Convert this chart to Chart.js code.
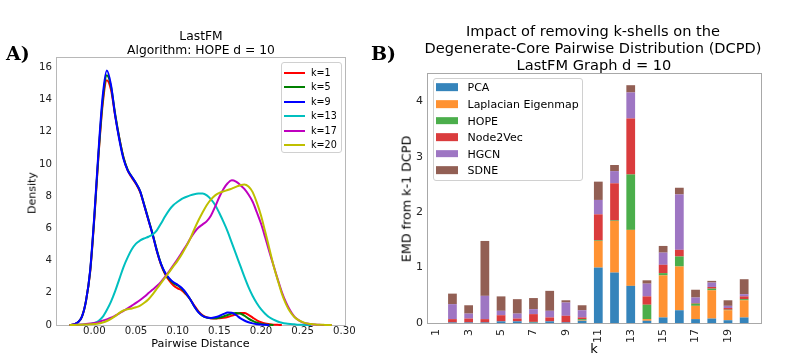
<!DOCTYPE html>
<html><head><meta charset="utf-8">
<script src="https://cdn.jsdelivr.net/npm/chart.js@4.4.1/dist/chart.umd.min.js"></script>
<style>
html,body{margin:0;padding:0;background:#fff;}
#root{position:relative;width:788px;height:358px;overflow:hidden;font-family:'DejaVu Sans',sans-serif;color:#000;}
.t{position:absolute;white-space:nowrap;transform:translate(-50%,-50%);line-height:1;}
.rot{transform:translate(-50%,-50%) rotate(-90deg);}
.panel{position:absolute;font-family:'DejaVu Serif',serif;font-weight:bold;font-size:19px;line-height:1;}
.legbox{position:absolute;border:1px solid #d0d0d0;border-radius:3px;background:rgba(255,255,255,0.85);box-sizing:border-box;}
.legtxt{position:absolute;white-space:nowrap;transform:translateY(-50%);line-height:1;}
.legline{position:absolute;height:2px;transform:translateY(-50%);}
.legpatch{position:absolute;transform:translateY(-50%);}
</style></head><body>
<div id="root">
  <div style="position:absolute;left:0;top:0;width:360px;height:358px"><canvas id="cA" width="360" height="358"></canvas></div>
  <div style="position:absolute;left:360px;top:0;width:428px;height:358px"><canvas id="cB" width="428" height="358"></canvas></div>

  <div class="panel" style="left:6px;top:44px">A)</div>
  <div class="panel" style="left:371px;top:44px">B)</div>

  <div class="t" style="left:201px;top:35.5px;font-size:12.3px">LastFM</div>
  <div class="t" style="left:201px;top:50px;font-size:12.3px">Algorithm: HOPE d = 10</div>
  <div class="t" style="left:200.5px;top:344px;font-size:11.2px">Pairwise Distance</div>
  <div class="t rot" style="left:31.5px;top:192.5px;font-size:11px">Density</div>

  <div class="t" style="left:593px;top:31px;font-size:14.6px">Impact of removing k-shells on the</div>
  <div class="t" style="left:593px;top:48px;font-size:14.6px">Degenerate-Core Pairwise Distribution (DCPD)</div>
  <div class="t" style="left:594px;top:64.5px;font-size:14.6px">LastFM Graph d = 10</div>
  <div class="t rot" style="left:406.5px;top:198.5px;font-size:12.7px">EMD from k-1 DCPD</div>
  <div class="t" style="left:594px;top:348px;font-size:13px">k</div>

  <div id="legA"></div>
  <div id="legB"></div>
</div>
<script>
// ---------------- Panel A data (KDE of pairwise distances) ----------------
const pairwiseDistance = [-0.030,-0.025,-0.020,-0.015,-0.010,-0.005,0.000,0.005,0.010,0.015,0.020,0.025,0.030,0.035,0.040,0.045,0.050,0.055,0.060,0.065,0.070,0.075,0.080,0.085,0.090,0.095,0.100,0.105,0.110,0.115,0.120,0.125,0.130,0.135,0.140,0.145,0.150,0.155,0.160,0.165,0.170,0.175,0.180,0.185,0.190,0.195,0.200,0.205,0.210,0.215,0.220,0.225,0.230,0.235,0.240,0.245,0.250,0.255,0.260,0.265,0.270,0.275,0.280,0.285];
const densityK1  = [0,0.03,0.15,0.5,1.5,3.3,6.6,10.5,13.7,15.2,14.6,13.0,11.6,10.4,9.6,9.15,8.75,8.25,7.4,6.5,5.6,4.6,3.75,3.15,2.75,2.45,2.28,2.15,1.9,1.6,1.2,0.85,0.6,0.47,0.42,0.4,0.42,0.45,0.5,0.58,0.67,0.74,0.74,0.63,0.46,0.29,0.17,0.09,0.05,0.02,0.01,0,null,null,null,null,null,null,null,null,null,null,null,null];
const densityK5  = [0,0.03,0.15,0.5,1.5,3.35,6.7,10.6,13.9,15.5,14.8,13.1,11.6,10.4,9.65,9.2,8.8,8.3,7.45,6.55,5.65,4.65,3.8,3.2,2.85,2.6,2.45,2.25,1.95,1.6,1.15,0.8,0.57,0.46,0.42,0.42,0.46,0.53,0.62,0.71,0.75,0.71,0.58,0.4,0.25,0.14,0.07,0.03,0.01,0,null,null,null,null,null,null,null,null,null,null,null,null,null,null];
const densityK9  = [0,0.03,0.15,0.5,1.5,3.4,6.8,10.8,14.2,15.8,14.9,13.0,11.5,10.3,9.6,9.2,8.8,8.3,7.4,6.5,5.6,4.6,3.8,3.25,2.9,2.65,2.5,2.3,2.0,1.6,1.15,0.78,0.56,0.46,0.44,0.48,0.56,0.68,0.77,0.76,0.62,0.43,0.28,0.17,0.1,0.05,0.03,0.01,0,null,null,null,null,null,null,null,null,null,null,null,null,null,null,null];
const densityK13 = [null,0,0.01,0.02,0.04,0.07,0.12,0.25,0.5,0.93,1.45,2.1,2.85,3.6,4.2,4.7,5.05,5.25,5.38,5.48,5.62,5.88,6.3,6.75,7.15,7.45,7.65,7.83,7.95,8.05,8.12,8.16,8.17,8.05,7.8,7.45,6.95,6.4,5.8,5.1,4.4,3.7,3.0,2.35,1.8,1.35,0.98,0.7,0.48,0.33,0.22,0.14,0.09,0.06,0.04,0.02,0.01,0.005,0,null,null,null,null,null];
const densityK17 = [0,0.01,0.02,0.03,0.06,0.09,0.12,0.18,0.27,0.35,0.45,0.58,0.72,0.88,1.03,1.2,1.37,1.55,1.75,1.98,2.2,2.42,2.68,3.0,3.35,3.72,4.1,4.5,4.9,5.35,5.75,6.05,6.25,6.45,6.8,7.35,7.95,8.45,8.8,8.98,8.9,8.7,8.45,8.1,7.65,7.0,6.3,5.45,4.55,3.7,2.85,2.05,1.4,0.9,0.52,0.3,0.16,0.09,0.05,0.03,0.01,0.005,0,0];
const densityK20 = [0,0.005,0.01,0.02,0.03,0.04,0.06,0.09,0.16,0.25,0.38,0.55,0.75,0.9,0.98,1.03,1.1,1.2,1.38,1.6,1.9,2.25,2.6,2.95,3.3,3.65,4.0,4.4,4.85,5.35,5.95,6.5,7.0,7.45,7.8,8.05,8.2,8.3,8.38,8.47,8.58,8.68,8.73,8.6,8.25,7.6,6.8,5.8,4.75,3.7,2.8,1.95,1.3,0.82,0.5,0.3,0.18,0.1,0.06,0.03,0.02,0.01,0,0];
const kdeLabels = ['k=1','k=5','k=9','k=13','k=17','k=20'];
const kdeColors = ['#ff0000','#008000','#0000ff','#00bfbf','#bf00bf','#bfbf00'];
const distanceTicks = [0.00,0.05,0.10,0.15,0.20,0.25,0.30];
const densityTicks = [0,2,4,6,8,10,12,14,16];

// ---------------- Panel B data (stacked EMD bars) ----------------
const kShells = [1,2,3,4,5,6,7,8,9,10,11,12,13,14,15,16,17,18,19,20];
const emdPCA       = [0,0.01,0.01,0.01,0.03,0.03,0.01,0.03,0.01,0.04,1.00,0.91,0.67,0.04,0.10,0.23,0.07,0.08,0.05,0.10];
const emdLaplacian = [0,0,0,0,0,0,0,0,0,0.01,0.48,0.93,1.01,0.03,0.76,0.79,0.24,0.51,0.18,0.31];
const emdHOPE      = [0,0,0,0,0,0,0.01,0,0,0.02,0.01,0.01,1.00,0.26,0.04,0.18,0.04,0.03,0.01,0.02];
const emdNode2Vec  = [0,0.06,0.07,0.06,0.11,0.05,0.14,0.07,0.12,0.03,0.47,0.67,1.01,0.15,0.15,0.12,0.01,0.03,0.03,0.05];
const emdHGCN      = [0,0.27,0.09,0.42,0.08,0.09,0.09,0.12,0.24,0.13,0.26,0.22,0.47,0.23,0.22,1.00,0.10,0.08,0.04,0.04];
const emdSDNE      = [0,0.19,0.15,0.99,0.26,0.26,0.20,0.36,0.04,0.09,0.33,0.11,0.13,0.06,0.12,0.12,0.14,0.03,0.10,0.27];
const algoLabels = ['PCA','Laplacian Eigenmap','HOPE','Node2Vec','HGCN','SDNE'];
const algoColors = ['rgba(31,119,180,0.9)','rgba(255,127,14,0.85)','rgba(44,160,44,0.85)','rgba(214,39,40,0.9)','rgba(148,103,189,0.9)','rgba(140,86,75,0.95)'];
const kTicks = [1,3,5,7,9,11,13,15,17,19];
const emdTicks = [0,1,2,3,4];

Chart.defaults.font.family = "'DejaVu Sans', sans-serif";
Chart.defaults.color = '#000';

const framePlugin = {
  id: 'frame',
  beforeDatasetsDraw(chart, args, opts) {
    const a = chart.chartArea, ctx = chart.ctx;
    ctx.save();
    ctx.strokeStyle = opts.color || '#b0b0b0';
    ctx.lineWidth = 1;
    ctx.strokeRect(Math.round(a.left) + 0.5, Math.round(a.top) + 0.5, Math.round(a.right - a.left) - 1, Math.round(a.bottom - a.top));
    ctx.restore();
  }
};
const noGrid = {display: false, drawTicks: false, tickLength: 0};

// ---------------- Chart A ----------------
const kdeSeries = [densityK1, densityK5, densityK9, densityK13, densityK17, densityK20];
new Chart(document.getElementById('cA'), {
  type: 'line',
  data: {
    datasets: kdeSeries.map((ys, i) => ({
      label: kdeLabels[i],
      data: pairwiseDistance.map((x, j) => ({x: x, y: ys[j]})),
      borderColor: kdeColors[i],
      borderWidth: 2,
      pointRadius: 0,
      fill: false,
      cubicInterpolationMode: 'monotone',
      spanGaps: false,
      clip: false,
      order: kdeSeries.length - i
    }))
  },
  options: {
    responsive: false, animation: false, devicePixelRatio: 1,
    layout: {padding: {left: 0, top: 57, right: 14, bottom: 0}},
    plugins: {legend: {display: false}, tooltip: {enabled: false}, frame: {color: '#b8b8b8'}},
    scales: {
      x: {
        type: 'linear', min: -0.046, max: 0.302,
        grid: noGrid, border: {display: false},
        afterBuildTicks: s => { s.ticks = distanceTicks.map(v => ({value: v})); },
        afterFit: s => { s.height = 33; },
        ticks: {autoSkip: false, maxRotation: 0, minRotation: 0, padding: 0, font: {size: 10.2}, color: '#222',
          callback: v => Number(v).toFixed(2)}
      },
      y: {
        type: 'linear', min: 0, max: 16.64,
        grid: noGrid, border: {display: false},
        afterBuildTicks: s => { s.ticks = densityTicks.map(v => ({value: v})); },
        afterFit: s => { s.width = 56; },
        ticks: {autoSkip: false, padding: 4, font: {size: 10.2}, color: '#222'}
      }
    }
  },
  plugins: [framePlugin]
});

// ---------------- Chart B ----------------
const emdSeries = [emdPCA, emdLaplacian, emdHOPE, emdNode2Vec, emdHGCN, emdSDNE];
new Chart(document.getElementById('cB'), {
  type: 'bar',
  data: {
    datasets: emdSeries.map((vals, i) => ({
      label: algoLabels[i],
      data: kShells.map((k, j) => ({x: k, y: vals[j]})),
      backgroundColor: algoColors[i],
      borderWidth: 0,
      barPercentage: 0.54,
      categoryPercentage: 1.0
    }))
  },
  options: {
    responsive: false, animation: false, devicePixelRatio: 1,
    layout: {padding: {left: 0, top: 73, right: 26, bottom: 0}},
    plugins: {legend: {display: false}, tooltip: {enabled: false}, frame: {color: '#a8a8a8'}},
    scales: {
      x: {
        type: 'linear', min: 0.43, max: 21.1, stacked: true, offset: false,
        grid: noGrid, border: {display: false},
        afterBuildTicks: s => { s.ticks = kTicks.map(v => ({value: v})); },
        afterFit: s => { s.height = 35; },
        ticks: {autoSkip: false, maxRotation: 90, minRotation: 90, padding: 6, font: {size: 11}, color: '#222'}
      },
      y: {
        type: 'linear', min: 0, max: 4.51, stacked: true,
        grid: noGrid, border: {display: false},
        afterBuildTicks: s => { s.ticks = emdTicks.map(v => ({value: v})); },
        afterFit: s => { s.width = 67; },
        ticks: {autoSkip: false, padding: 4, font: {size: 11}, color: '#222'}
      }
    }
  },
  plugins: [framePlugin]
});

// ---------------- HTML legends ----------------
(function(){
  const legA = document.getElementById('legA');
  let h = '<div class="legbox" style="left:280.5px;top:62px;width:61.5px;height:90.5px"></div>';
  const ya = [72.7, 87.3, 101.8, 116.3, 130.8, 145.3];
  kdeLabels.forEach((lab, i) => {
    h += '<div class="legline" style="left:283.5px;top:' + ya[i] + 'px;width:21px;background:' + kdeColors[i] + '"></div>';
    h += '<div class="legtxt" style="left:311px;top:' + ya[i] + 'px;font-size:9.6px">' + lab + '</div>';
  });
  legA.innerHTML = h;
  const legB = document.getElementById('legB');
  let g = '<div class="legbox" style="left:432.5px;top:78px;width:150.5px;height:103px"></div>';
  const yb = [87.3, 104, 120.6, 137.2, 153.8, 170.4];
  algoLabels.forEach((lab, i) => {
    g += '<div class="legpatch" style="left:436px;top:' + yb[i] + 'px;width:22.3px;height:7.7px;background:' + algoColors[i] + '"></div>';
    g += '<div class="legtxt" style="left:467.5px;top:' + yb[i] + 'px;font-size:11px">' + lab + '</div>';
  });
  legB.innerHTML = g;
})();
</script>
</body></html>
